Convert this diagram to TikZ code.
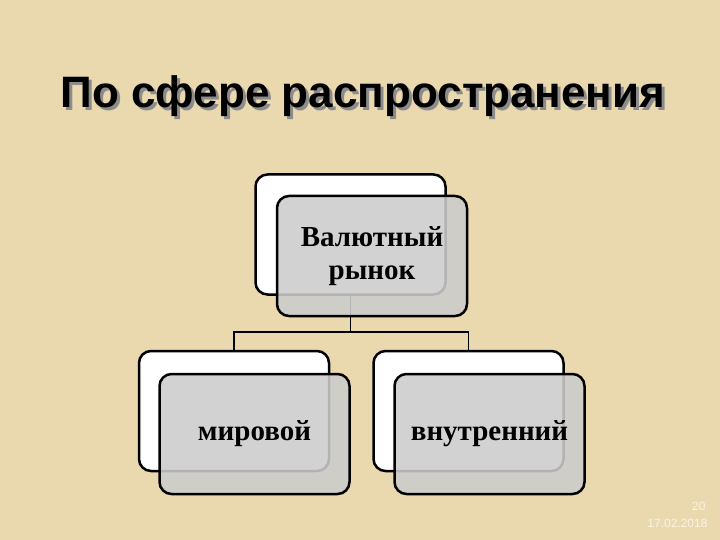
\documentclass[tikz,border=0pt]{standalone}
\usepackage{fontspec}
\setmainfont{Liberation Serif}
\newfontfamily\titlefont{Liberation Sans}
\usepackage{tikz}
\definecolor{parchment}{RGB}{234,216,174}
\definecolor{boxgray}{RGB}{204,204,204}
\definecolor{datecol}{RGB}{250,244,228}
\newcommand{\shadowed}[1]{\makebox[0pt][l]{\hspace{3pt}\raisebox{-3pt}{\color{black!45}#1}}#1}
\tikzset{
  backbox/.style={draw=black, line width=2.5pt, rounded corners=12pt, fill=white,
    minimum width=190pt, minimum height=120pt},
  frontbox/.style={draw=black, line width=2.5pt, rounded corners=12pt, fill=boxgray,
    fill opacity=0.88, text opacity=1, minimum width=190pt, minimum height=120pt,
    align=center, font=\bfseries\fontsize{29}{33}\selectfont},
}

\begin{document}
\begin{tikzpicture}[x=1pt, y=-1pt]
    \fill[parchment] (0,0) rectangle (720,540);
    \node[font=\titlefont\bfseries\fontsize{44}{50}\selectfont] at (363,98) (title) {\shadowed{По сфере распространения}};
    \node[backbox] at (350.5,234.5) (rynok) {};
    \node[backbox] at (234,411) (mir) {};
    \node[backbox] at (468.5,411) (vnutr) {};
    \draw [line width=1.8pt] (rynok.south) -- ++(0,36) coordinate (split);
    \draw [line width=1.8pt] (split) -| (mir.north);
    \draw [line width=1.8pt] (split) -| (vnutr.north);
    \node[frontbox] at (372,256) (rynokfront) {Валютный\\рынок};
    \node[frontbox] at (254.5,434) (mirfront) {мировой};
    \node[frontbox] at (489.5,434) (vnutrfront) {внутренний};
    \node[text=datecol, font=\titlefont\fontsize{12}{14}\selectfont, anchor=east] at (709,506) (pagenum) {20};
    \node[text=datecol, font=\titlefont\fontsize{12}{14}\selectfont, anchor=east] at (711,523) (date) {17.02.2018};
\end{tikzpicture}
\end{document}
